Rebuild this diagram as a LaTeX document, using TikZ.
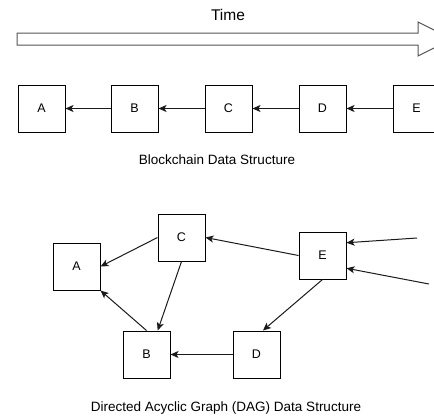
\documentclass[tikz,border=0pt]{standalone}
\usepackage{fontspec}
\setmainfont{Liberation Sans}
\usepackage{tikz}
\usetikzlibrary{arrows.meta}
\definecolor{lineblack}{HTML}{1A1A1A}
\definecolor{timegray}{HTML}{555555}

\begin{document}
\begin{tikzpicture}[x=1pt,y=-1pt,
    block/.style={draw=black,line width=1pt,minimum size=47pt,inner sep=0pt,
      font=\fontsize{12.5}{14}\selectfont},
    link/.style={draw=lineblack,line width=1pt,-{Stealth[length=8pt,width=7pt,inset=2pt]}},
    caption/.style={font=\fontsize{13.5}{15}\selectfont}]
  \useasboundingbox (0,0) rectangle (434,416);
  \draw[timegray,line width=1pt] (17,33) -- (418,33) -- (418,22) -- (452,39)
    -- (418,56) -- (418,45) -- (17,45) -- cycle;
  \node[font=\fontsize{15.5}{17}\selectfont] (time) at (228,15) {Time};
  \node[block] (a1) at (41.5,108.5) {A};
  \node[block] (b1) at (134.5,108.5) {B};
  \node[block] (c1) at (228.5,108.5) {C};
  \node[block] (d1) at (322.5,108.5) {D};
  \node[block] (e1) at (416.5,108.5) {E};
  \draw[link] (b1) -- (a1);
  \draw[link] (c1) -- (b1);
  \draw[link] (d1) -- (c1);
  \draw[link] (e1) -- (d1);
  \node[caption] (chain) at (217,160) {Blockchain Data Structure};
  \node[block] (a2) at (76.5,266.5) {A};
  \node[block] (c2) at (181.5,237.5) {C};
  \node[block] (e2) at (322.5,255.5) {E};
  \node[block] (b2) at (146.5,354.5) {B};
  \node[block] (d2) at (256.5,354.5) {D};
  \coordinate (in1) at (417,238);
  \coordinate (in2) at (429,284);
  \draw[link] (c2.west) -- (a2.east);
  \draw[link] (b2.north) -- (a2.south east);
  \draw[link] (c2.south) -- (b2.65);
  \draw[link] (e2.west) -- (c2.east);
  \draw[link] (e2.south) -- (d2.75);
  \draw[link] (d2.west) -- (b2.east);
  \draw[link] (in1) -- (e2.28);
  \draw[link] (in2) -- (e2.-28);
  \node[caption] (dag) at (226,408) {Directed Acyclic Graph (DAG) Data Structure};
\end{tikzpicture}
\end{document}
